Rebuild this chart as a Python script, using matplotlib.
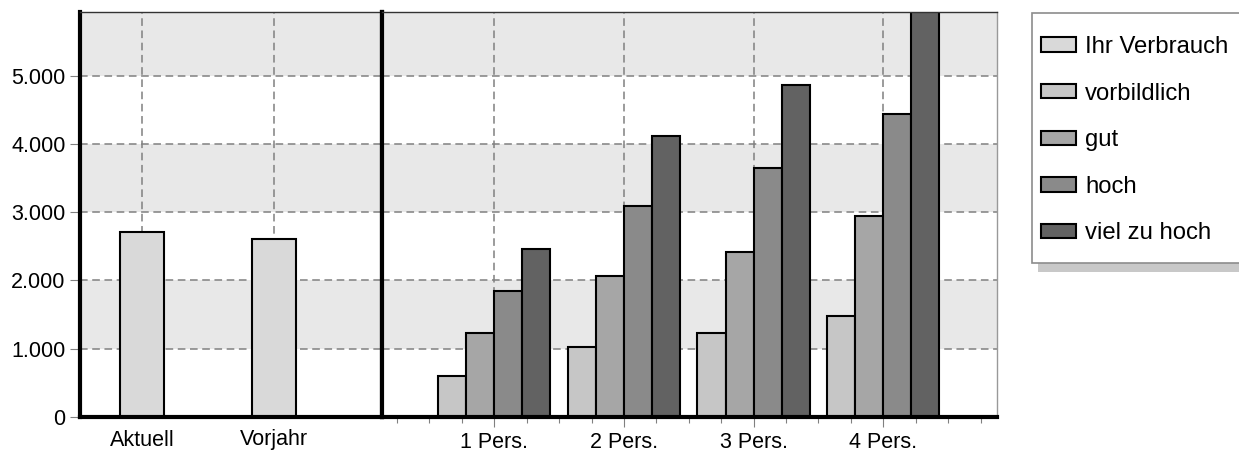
import numpy as np
import matplotlib.pyplot as plt
from matplotlib.patches import Patch, Rectangle
from matplotlib.ticker import FuncFormatter, MultipleLocator, FixedLocator

plt.rcParams['font.family'] = ['Liberation Sans', 'DejaVu Sans']

# data
own_labels = ['Aktuell', 'Vorjahr']
own_values = [2715, 2600]

groups = ['1 Pers.', '2 Pers.', '3 Pers.', '4 Pers.']
vorbildlich = [600, 1020, 1225, 1485]
gut = [1225, 2070, 2420, 2950]
hoch = [1840, 3090, 3650, 4440]
viel_zu_hoch = [2455, 4120, 4855, 6100]

series_names = ['vorbildlich', 'gut', 'hoch', 'viel zu hoch']
series_values = [vorbildlich, gut, hoch, viel_zu_hoch]
series_colors = ['#c6c6c6', '#a6a6a6', '#8a8a8a', '#626262']
own_color = '#d9d9d9'
own_name = 'Ihr Verbrauch'

y_ticks = [0, 1000, 2000, 3000, 4000, 5000]
y_max = 5930

W, H = 1239, 451
fig = plt.figure(figsize=(W / 100, H / 100), dpi=100)

bottom = (H - 417) / H
height = 405 / H
ax1 = fig.add_axes([80 / W, bottom, 302 / W, height])
ax2 = fig.add_axes([382 / W, bottom, 615 / W, height])

grid_kw = dict(color='#808080', linewidth=1.1, linestyle=(0, (5, 3)))
tick_color = '#808080'

for ax in (ax1, ax2):
    ax.set_ylim(0, y_max)
    ax.set_axisbelow(True)
    # alternating background bands
    edges = y_ticks + [y_max]
    for i in range(len(edges) - 1):
        if i % 2 == 1:
            ax.axhspan(edges[i], edges[i + 1], color='#e8e8e8', zorder=0, lw=0)
    ax.yaxis.set_major_locator(FixedLocator(y_ticks))
    ax.grid(True, which='major', **grid_kw)
    ax.spines['bottom'].set_linewidth(3)
    ax.spines['bottom'].set_color('black')
    ax.spines['top'].set_linewidth(1.0)
    ax.spines['top'].set_color('#333333')
    for sp in ax.spines.values():
        sp.set_zorder(4)

# left part: own consumption
x1 = np.arange(len(own_labels))
ax1.bar(x1, own_values, 0.336, color=own_color, edgecolor='black', linewidth=1.5, zorder=3)
ax1.set_xlim(-0.471, 1.817)
ax1.set_xticks(x1)
ax1.set_xticklabels(own_labels, fontsize=15.5)
ax1.tick_params(axis='x', length=0, pad=9)
ax1.yaxis.set_major_formatter(FuncFormatter(lambda v, p: f'{int(v):,}'.replace(',', '.')))
ax1.tick_params(axis='y', labelsize=15.5, length=7.5, width=0.8, color=tick_color, pad=3)
ax1.spines['left'].set_linewidth(3)
ax1.spines['left'].set_color('black')
ax1.spines['right'].set_linewidth(3)
ax1.spines['right'].set_color('black')

# right part: reference values per household size
x2 = np.arange(len(groups))
bw = 0.2167
for i, (name, vals, col) in enumerate(zip(series_names, series_values, series_colors)):
    ax2.bar(x2 + (i - 1.5) * bw, vals, bw, color=col, edgecolor='black', linewidth=1.5,
            zorder=3, label=name)
ax2.set_xlim(-0.866, 3.877)
ax2.set_xticks(x2)
ax2.set_xticklabels(groups, fontsize=15.5)
ax2.xaxis.set_minor_locator(MultipleLocator(0.25))
ax2.tick_params(axis='x', which='major', length=7.5, width=0.8, color=tick_color, pad=3)
ax2.tick_params(axis='x', which='minor', length=4.5, width=0.8, color=tick_color)
ax2.tick_params(axis='y', left=False, labelleft=False)
ax2.spines['left'].set_linewidth(3)
ax2.spines['left'].set_color('black')
ax2.spines['right'].set_linewidth(1.0)
ax2.spines['right'].set_color('#999999')

# legend box with shadow
shadow = Rectangle((1038 / W, (H - 272) / H), 220 / W, 250 / H, transform=fig.transFigure,
                   facecolor='#c8c8c8', edgecolor='none', zorder=1)
frame = Rectangle((1032 / W, (H - 263) / H), 220 / W, 250 / H, transform=fig.transFigure,
                  facecolor='white', edgecolor='#8c8c8c', linewidth=1.2, zorder=2)
fig.patches.extend([shadow, frame])

handles = [Patch(facecolor=own_color, edgecolor='black', linewidth=1.5)]
handles += [Patch(facecolor=c, edgecolor='black', linewidth=1.5) for c in series_colors]
labels = [own_name] + series_names
leg = fig.legend(handles, labels, loc='upper left', bbox_to_anchor=(1041 / W, 1 - 36 / H),
                 frameon=False, fontsize=17.2, borderpad=0, borderaxespad=0,
                 handlelength=1.45, handleheight=0.55, handletextpad=0.4, labelspacing=1.03)
leg.set_zorder(5)

fig.savefig('out.png', dpi=100)
